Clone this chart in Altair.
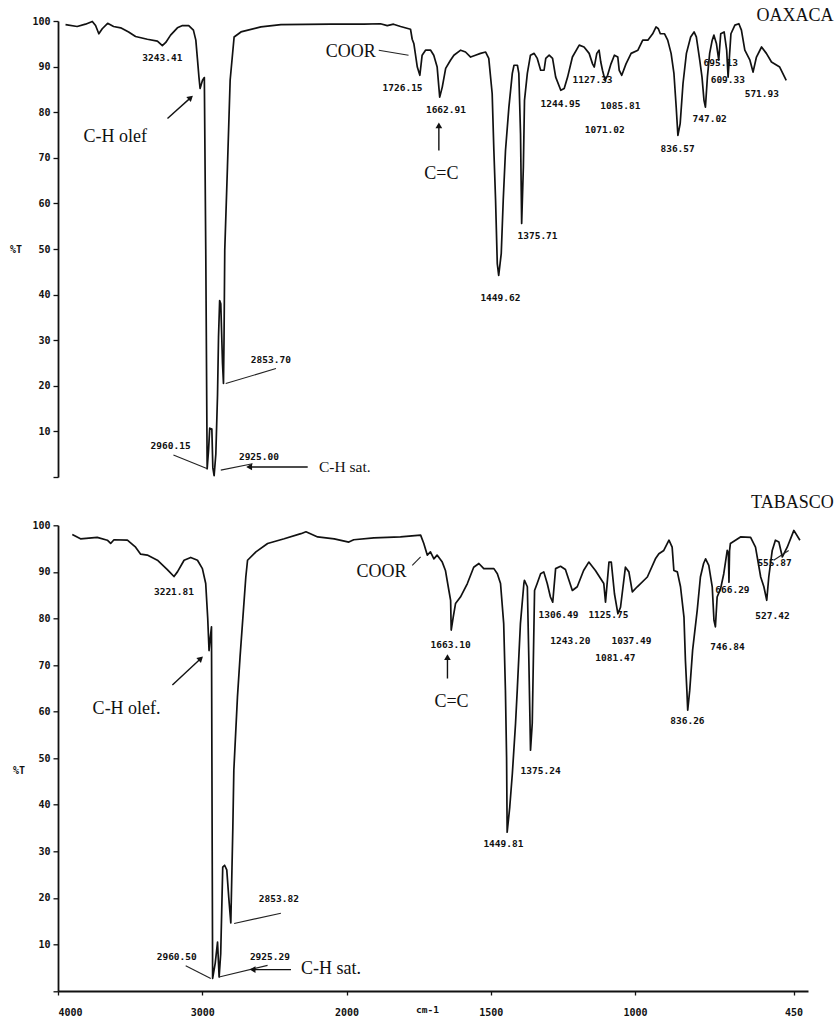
import altair as alt
import pandas as pd

# ---------------- OAXACA spectrum (wavenumber cm-1, %T) ----------------
oax_wn = [3947, 3865, 3806, 3758, 3735, 3712, 3688, 3650, 3608, 3558, 3502, 3453, 3370, 3299,
          3264, 3240, 3206, 3158, 3122, 3078, 3045, 3028, 3017, 3006, 2998, 2981, 2968, 2958,
          2948, 2938, 2930, 2915, 2908, 2899, 2887, 2875, 2868, 2860, 2852, 2840, 2833, 2829,
          2824, 2805, 2786, 2758, 2710, 2569, 2428, 2075, 1921, 1863, 1839, 1817, 1792, 1757,
          1751, 1745, 1733, 1724, 1716, 1704, 1686, 1675, 1663, 1657, 1654, 1645, 1633, 1616,
          1604, 1580, 1563, 1545, 1528, 1510, 1492, 1481, 1469, 1463, 1457, 1451, 1446, 1437,
          1430, 1422, 1410, 1398, 1392, 1380, 1375, 1369, 1365, 1359, 1355, 1345, 1334, 1321,
          1310, 1298, 1286, 1280, 1268, 1256, 1245, 1227, 1215, 1203, 1186, 1162, 1145, 1127,
          1115, 1109, 1100, 1092, 1086, 1080, 1071, 1062, 1050, 1038, 1026, 1021, 1012, 997,
          979, 955, 938, 920, 903, 891, 883, 876, 861, 850, 838, 828, 820, 814, 806, 796, 784,
          769, 757, 749, 737, 729, 722, 717, 710, 702, 693, 687, 678, 670, 663, 651, 642, 637,
          627, 613, 599, 590, 578, 560, 549, 537, 519, 502, 484, 455, 432]
oax_t = [99.2, 98.8, 99.3, 99.9, 99.0, 97.2, 98.3, 99.5, 98.8, 98.5, 97.6, 96.6, 96.0, 95.6,
         94.6, 95.3, 96.9, 98.5, 99.0, 99.0, 98.0, 95.8, 91.8, 87.7, 85.2, 87.0, 87.6, 50.0,
         1.8, 6.0, 10.7, 10.5, 2.0, 0.3, 5.0, 18.0, 30.7, 38.7, 38.0, 25.0, 20.5, 30.7,
         49.7, 68.0, 87.0, 96.5, 97.6, 98.7, 99.2, 99.3, 99.3, 99.4, 99.0, 99.3, 98.8, 98.2,
         96.0, 95.0, 89.9, 88.1, 92.5, 93.6, 93.6, 92.5, 89.9, 85.5, 83.3, 85.5, 89.6, 91.4,
         92.5, 93.6, 93.2, 92.1, 92.5, 92.9, 93.2, 91.8, 84.1, 71.6, 60.7, 46.8, 44.2, 49.0,
         60.7, 71.6, 81.1, 88.5, 90.3, 90.3, 88.5, 75.3, 55.6, 68.0, 82.6, 88.5, 92.5, 92.9,
         91.8, 89.2, 89.2, 91.8, 92.5, 91.8, 87.7, 84.8, 85.2, 87.7, 92.1, 94.7, 94.3, 92.9,
         90.6, 89.9, 92.9, 93.6, 91.0, 89.2, 87.0, 88.1, 90.6, 92.5, 92.1, 89.2, 88.1, 90.6,
         92.9, 93.6, 95.8, 95.8, 97.2, 98.7, 98.3, 97.2, 97.2, 95.8, 92.9, 88.5, 81.1, 74.9,
         77.5, 86.3, 92.9, 96.5, 97.6, 96.5, 91.4, 87.7, 82.6, 81.1, 87.7, 92.9, 95.8, 96.9,
         95.0, 91.4, 97.2, 97.6, 93.6, 87.7, 97.2, 99.1, 99.4, 98.0, 93.6, 91.4, 88.8, 92.1,
         94.3, 92.9, 91.0, 89.9, 87.0]

# ---------------- TABASCO spectrum ----------------
tab_wn = [3901, 3844, 3728, 3658, 3635, 3612, 3519, 3462, 3427, 3381, 3311, 3242, 3196, 3172,
          3126, 3080, 3033, 2999, 2976, 2962, 2953, 2944, 2936, 2931, 2928, 2910, 2894, 2883,
          2872, 2858, 2845, 2830, 2816, 2802, 2788, 2781, 2756, 2738, 2698, 2686, 2628, 2547,
          2432, 2316, 2281, 2200, 2085, 1992, 1975, 1905, 1813, 1743, 1732, 1720, 1709, 1697,
          1686, 1668, 1657, 1645, 1639, 1637, 1630, 1622, 1605, 1581, 1559, 1541, 1524, 1489,
          1477, 1466, 1455, 1449, 1445, 1443, 1434, 1425, 1414, 1408, 1397, 1385, 1383, 1373,
          1368, 1362, 1356, 1348, 1339, 1327, 1316, 1304, 1293, 1285, 1275, 1258, 1241, 1217,
          1200, 1178, 1160, 1137, 1108, 1102, 1090, 1082, 1071, 1059, 1050, 1033, 1021, 1009,
          992, 957, 929, 917, 900, 882, 871, 865, 853, 842, 830, 825, 820, 817, 810, 800, 784,
          773, 762, 755, 744, 732, 726, 721, 715, 703, 692, 680, 676, 674, 672, 669, 634, 599,
          582, 564, 553, 543, 536, 524, 513, 501, 489, 472, 449, 428]
tab_t = [98.0, 97.1, 97.4, 96.8, 96.1, 96.9, 96.8, 95.3, 93.8, 93.6, 92.5, 90.5, 89.0, 90.0,
         92.5, 93.1, 92.5, 90.7, 87.5, 80.0, 73.1, 76.0, 78.2, 30.0, 2.7, 6.0, 10.5, 3.0,
         8.0, 26.6, 27.0, 26.0, 20.0, 14.6, 35.0, 47.4, 63.1, 71.7, 88.9, 92.5, 94.3, 96.1,
         97.1, 98.2, 98.6, 97.5, 97.1, 96.4, 96.9, 97.3, 97.5, 97.9, 96.1, 93.6, 94.3, 92.8,
         93.6, 92.1, 90.3, 86.0, 83.9, 77.5, 80.3, 83.2, 84.6, 87.5, 91.0, 91.8, 90.7, 90.7,
         89.6, 87.5, 78.9, 64.6, 50.2, 34.1, 39.5, 46.7, 57.4, 64.6, 78.9, 87.5, 88.2, 86.8,
         71.7, 51.7, 57.5, 86.0, 87.5, 89.6, 90.0, 87.5, 84.6, 83.5, 90.7, 91.2, 90.5, 86.0,
         86.8, 90.3, 92.1, 90.3, 87.5, 83.5, 92.1, 92.1, 85.3, 81.0, 82.4, 91.0, 90.0, 85.7,
         86.8, 88.9, 92.8, 93.9, 94.6, 96.8, 95.3, 90.3, 90.0, 86.8, 80.3, 71.0, 64.6, 60.3,
         64.6, 73.2, 81.8, 88.9, 91.8, 92.8, 91.4, 86.8, 79.6, 78.2, 84.6, 86.4, 89.6, 94.6,
         94.0, 87.8, 94.5, 96.1, 97.5, 97.4, 95.3, 88.9, 86.8, 83.9, 88.9, 94.6, 96.8, 96.4,
         93.2, 95.3, 98.9, 96.8]

# ---------------- peak labels ----------------
oax_pk_text = ["3243.41", "2960.15", "2925.00", "2853.70", "1726.15", "1662.91", "1449.62",
               "1375.71", "1244.95", "1127.33", "1085.81", "1071.02", "836.57", "747.02",
               "695.13", "609.33", "571.93"]
oax_pk_wn = [3264, 3206, 2583, 2499, 1785, 1632, 1440, 1309, 1228, 1115, 1017, 1072, 815, 702,
             663, 638, 518]
oax_pk_t = [91.8, 6.8, 4.3, 25.6, 85.2, 80.4, 39.3, 52.9, 81.7, 87.0, 81.3, 76.0, 72.0, 78.6,
            90.8, 87.1, 83.9]

tab_pk_text = ["3221.81", "2960.50", "2925.29", "2853.82", "1663.10", "1449.81", "1375.24",
               "1306.49", "1243.20", "1125.75", "1081.47", "1037.49", "836.26", "746.84",
               "666.29", "555.87", "527.42", "cm-1"]
tab_pk_wn = [3196, 3177, 2531, 2469, 1639, 1456, 1327, 1265, 1224, 1092, 1068, 1012, 818, 679,
             662, 516, 523, 1719]
tab_pk_t = [85.7, 7.2, 7.2, 19.8, 74.2, 31.5, 47.2, 80.8, 75.1, 80.8, 71.4, 75.1, 57.9, 73.9,
            86.2, 91.8, 80.5, -4.1]

# ---------------- group annotations (serif) ----------------
oax_ann_text = ["C-H olef", "C-H sat.", "COOR", "C=C", "OAXACA"]
oax_ann_wn = [3820, 2160, 1968, 1648, 265]
oax_ann_t = [74.6, 2.2, 93.2, 66.5, 101.0]
oax_ann_al = ["left", "left", "center", "center", "right"]
oax_ann_fs = [18, 15.5, 18, 18, 18]

tab_ann_text = ["C-H olef.", "C-H sat.", "COOR", "C=C", "TABASCO"]
tab_ann_wn = [3760, 2316, 1879, 1636, 311]
tab_ann_t = [60.6, 4.7, 90.0, 62.1, 104.7]
tab_ann_al = ["left", "left", "center", "center", "right"]
tab_ann_fs = [18, 18, 18, 18, 18]

# ---------------- leader lines (start wn, start T, end wn, end T) ----------------
oax_lead = [(3186, 4.8, 2946, 1.8), (2852, 1.5, 2628, 2.9), (2817, 20.5, 2463, 23.8),
            (1869, 93.6, 1764, 92.5)]
tab_lead = [(3115, 5.4, 2941, 2.7), (2883, 3.0, 2547, 5.5), (2779, 14.5, 2455, 16.7),
            (1772, 91.4, 1743, 93.2), (519, 92.5, 467, 94.6)]

# ---------------- arrows (tail wn, tail T, head wn, head T, head angle) ----------------
oax_arrow = [(3228, 78.6, 3064, 83.2, 48), (1657, 71.6, 1657, 77.1, 0),
             (2239, 2.2, 2652, 2.2, 270)]
tab_arrow = [(3207, 65.7, 3010, 71.4, 47), (1650, 67.1, 1650, 71.7, 0),
             (2385, 4.6, 2651, 4.6, 270)]

Y_VALUES = list(range(0, 101, 5))
X_TICKS = [4000, 3000, 2000, 1500, 1000, 450]
MONO = "DejaVu Sans Mono"
SERIF = "Liberation Serif"


def panel(wn, t, pk_text, pk_wn, pk_t, ann_text, ann_wn, ann_t, ann_al, ann_fs,
          lead, arrow, width, rng, height, title_x, title_y, show_x):
    xs = alt.Scale(domain=[4000, 2000, 400], range=rng, nice=False, zero=False)
    ys = alt.Scale(domain=[0, 100], nice=False, zero=False)
    if show_x:
        xax = alt.Axis(values=X_TICKS, title=None, tickSize=4, labelPadding=12, format="d",
                       labelFont=MONO, labelFontWeight="bold", labelFontSize=10,
                       domainWidth=1.8, labelOverlap=False)
    else:
        xax = None
    yax = alt.Axis(values=Y_VALUES, title="%T", titleAngle=0, titleX=title_x, titleY=title_y,
                   titleAlign="center", titleBaseline="middle", titleFont=MONO,
                   titleFontWeight="bold", titleFontSize=10,
                   labelExpr="(datum.value % 10 == 0 && datum.value > 0) ? datum.label : ''",
                   labelFont=MONO, labelFontWeight="bold", labelFontSize=10,
                   tickSize=5, labelPadding=3, domainWidth=1.8)

    spec = pd.DataFrame({"wn": wn, "t": t, "i": range(len(wn))})
    line = alt.Chart(spec).mark_line(color="#111111", strokeWidth=1.7, strokeJoin="round").encode(
        x=alt.X("wn:Q", scale=xs, axis=xax),
        y=alt.Y("t:Q", scale=ys, axis=yax),
        order="i:Q",
    )

    ld = pd.DataFrame(lead, columns=["x1", "y1", "x2", "y2"])
    leaders = alt.Chart(ld).mark_rule(color="#222222", strokeWidth=1.1).encode(
        x=alt.X("x1:Q", scale=xs), y=alt.Y("y1:Q", scale=ys), x2="x2:Q", y2="y2:Q")

    ar = pd.DataFrame(arrow, columns=["x1", "y1", "x2", "y2", "ang"])
    shafts = alt.Chart(ar).mark_rule(color="#111111", strokeWidth=1.4).encode(
        x=alt.X("x1:Q", scale=xs), y=alt.Y("y1:Q", scale=ys), x2="x2:Q", y2="y2:Q")
    heads = alt.Chart(ar).mark_point(shape="triangle-up", filled=True, color="#111111",
                                     size=45, opacity=1).encode(
        x=alt.X("x2:Q", scale=xs), y=alt.Y("y2:Q", scale=ys),
        angle=alt.Angle("ang:Q", scale=None))

    pk = pd.DataFrame({"txt": pk_text, "wn": pk_wn, "t": pk_t})
    peaks = alt.Chart(pk).mark_text(font=MONO, fontWeight="bold", fontSize=9.5,
                                    color="#111111", baseline="middle").encode(
        x=alt.X("wn:Q", scale=xs), y=alt.Y("t:Q", scale=ys), text="txt:N")

    an = pd.DataFrame({"txt": ann_text, "wn": ann_wn, "t": ann_t, "al": ann_al, "fs": ann_fs})
    layers = [line, leaders, shafts, heads, peaks]
    for al in ["left", "center", "right"]:
        sub = an[an["al"] == al]
        if len(sub) == 0:
            continue
        layers.append(alt.Chart(sub).mark_text(font=SERIF, align=al, baseline="middle",
                                               color="#111111").encode(
            x=alt.X("wn:Q", scale=xs), y=alt.Y("t:Q", scale=ys), text="txt:N",
            size=alt.Size("fs:Q", scale=None)))
    return alt.layer(*layers).properties(width=width, height=height)


top = panel(oax_wn, oax_t, oax_pk_text, oax_pk_wn, oax_pk_t, oax_ann_text, oax_ann_wn,
            oax_ann_t, oax_ann_al, oax_ann_fs, oax_lead, oax_arrow,
            737.3, [0, 283.6, 737.3], 456, -42.5, 228.3, False)
bottom = panel(tab_wn, tab_t, tab_pk_text, tab_pk_wn, tab_pk_t, tab_ann_text, tab_ann_wn,
               tab_ann_t, tab_ann_al, tab_ann_fs, tab_lead, tab_arrow,
               750, [0, 288.5, 750], 465.7, -39.5, 245, True)

chart = alt.vconcat(top, bottom, spacing=48.3, bounds="flush").properties(
    padding={"left": 9, "top": 7, "right": 0, "bottom": 0},
    background="white",
).configure_view(stroke=None).configure_axis(
    domainColor="#111111", tickColor="#111111", labelColor="#111111", titleColor="#111111",
    tickWidth=1.3, grid=False,
)

chart.save("out.html", embed_options={"renderer": "svg", "actions": False})
